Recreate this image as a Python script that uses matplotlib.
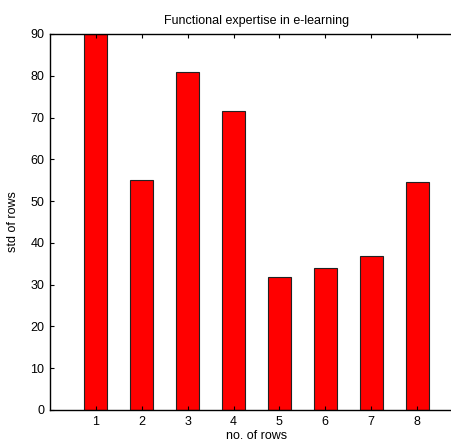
import numpy as np
import matplotlib
matplotlib.use('Agg')
import matplotlib.pyplot as plt

plt.rcParams['font.family'] = ['Liberation Sans', 'DejaVu Sans']

rows = [1, 2, 3, 4, 5, 6, 7, 8]
std_rows = [90, 55, 81, 71.6, 31.9, 33.9, 36.9, 54.5]

fig = plt.figure(figsize=(4.52, 4.47), dpi=100)
ax = fig.add_axes([50/452, 37/447, 413/452, 376/447])

ax.bar(rows, std_rows, width=0.5, color='red', edgecolor='#222222', linewidth=0.8)

ax.set_xlim(0, 9)
ax.set_ylim(0, 90)
ax.set_xticks(rows)
ax.set_yticks(np.arange(0, 91, 10))
ax.tick_params(direction='in', length=3, labelsize=9, top=True, right=False, pad=4)
for s in ax.spines.values():
    s.set_linewidth(1.0)
ax.spines['right'].set_visible(False)

ax.set_title('Functional expertise in e-learning', fontsize=9, pad=7)
ax.set_xlabel('no. of rows', fontsize=9, labelpad=2)
ax.set_ylabel('std of rows', fontsize=9, labelpad=8)

fig.savefig('out.png', dpi=100)
